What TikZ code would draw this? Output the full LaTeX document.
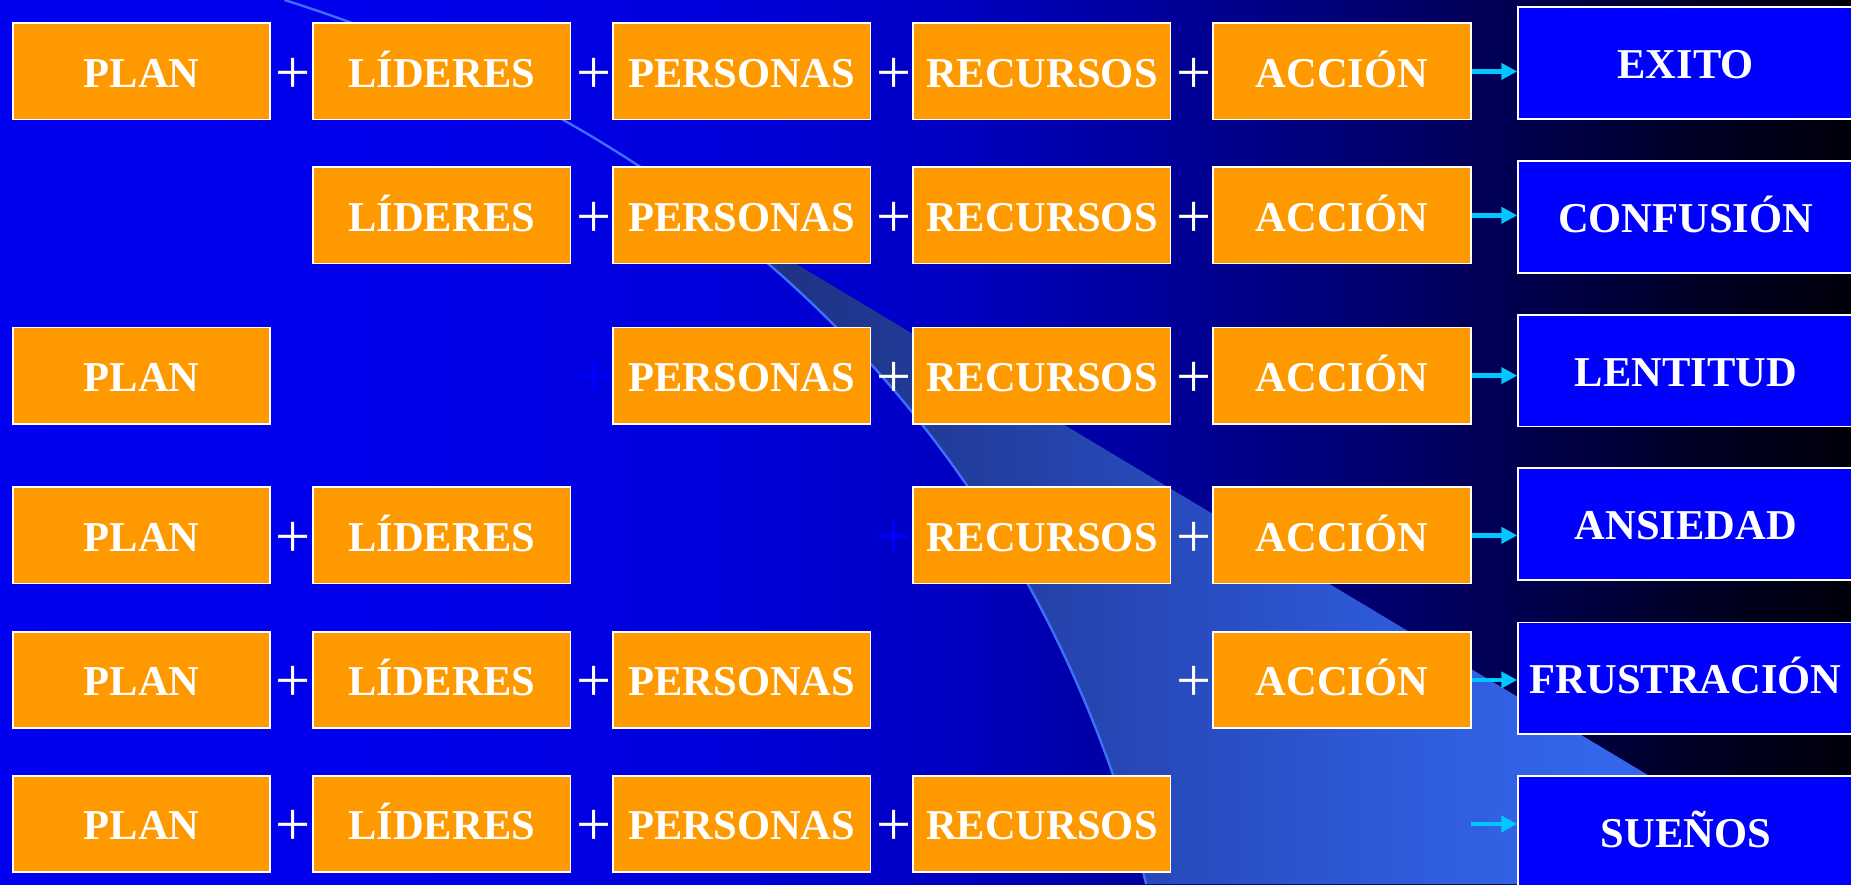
\documentclass[tikz,border=0pt]{standalone}
\usepackage{fontspec}
\setmainfont{Liberation Serif}
\usetikzlibrary{arrows.meta}
\definecolor{obox}{HTML}{FF9900}
\definecolor{rbox}{HTML}{0000FF}
\definecolor{arrcyan}{HTML}{00C8FF}
\definecolor{swline}{HTML}{3F6FFF}
\definecolor{faint}{HTML}{0000FF}
\definecolor{bg0}{RGB}{0,0,240}
\definecolor{bg1}{RGB}{0,0,236}
\definecolor{bg2}{RGB}{0,0,220}
\definecolor{bg3}{RGB}{0,0,195}
\definecolor{bg4}{RGB}{0,0,150}
\definecolor{bg5}{RGB}{0,0,115}
\definecolor{bg6}{RGB}{0,0,75}
\definecolor{bg7}{RGB}{0,0,35}
\definecolor{bg8}{RGB}{0,0,10}
\definecolor{sw0}{RGB}{30,50,130}
\definecolor{sw1}{RGB}{33,60,155}
\definecolor{sw2}{RGB}{40,75,190}
\definecolor{sw3}{RGB}{47,92,220}
\definecolor{sw4}{RGB}{51,102,235}
\pgfdeclarehorizontalshading{bgshade}{100bp}{color(0bp)=(bg0); color(25bp)=(bg0); color(34.6bp)=(bg1); color(44.1bp)=(bg2); color(50.5bp)=(bg3); color(56.9bp)=(bg4); color(61.7bp)=(bg5); color(66.5bp)=(bg6); color(71.2bp)=(bg7); color(75bp)=(bg8); color(100bp)=(bg8)}
\pgfdeclarehorizontalshading{swshade}{100bp}{color(0bp)=(sw0); color(28.7bp)=(sw0); color(36bp)=(sw1); color(45.7bp)=(sw2); color(55.5bp)=(sw3); color(62.8bp)=(sw4); color(100bp)=(sw4)}

\begin{document}
\begin{tikzpicture}[x=0.02cm,y=-0.02cm,
  box/.style={draw=white,line width=0.03cm,fill=obox,minimum width=4.36cm,minimum height=1.63cm,
    inner sep=0pt,text=white,font=\fontsize{20.5}{24}\selectfont\bfseries,text height=15.2pt,text depth=0pt},
  res/.style={box,fill=rbox,minimum width=5.68cm,minimum height=1.89cm},
  pls/.style={text=white,inner sep=0pt,yshift=-0.07cm,font=\fontsize{30}{30}\selectfont},
  arr/.style={draw=arrcyan,line width=0.08cm,-{Triangle[length=0.27cm,width=0.27cm]}}]
  \useasboundingbox (0,0) rectangle (1568,749);
  \clip (0,0) rectangle (1568,749);
  \shade[shading=bgshade] (0,0) rectangle (1568,749);
  \shade[shading=swshade] (575.1,164) -- (1600,779) -- (1600,749) -- (971,749)
    .. controls (907.35,503.1) and (771.75,304.6) .. (575.1,164) -- cycle;
  \draw[swline,line width=0.04cm] (241,0) .. controls (621,120) and (876,382) .. (971,749);
  \foreach \r/\y/\m in {1/60.5/0,2/182.4/1,3/318.2/2,4/453.5/3,5/576/4,6/698/5}{
    \coordinate (row\r) at (0,\y);
    \foreach \c/\t in {1/PLAN,2/LÍDERES,3/PERSONAS,4/RECURSOS,5/ACCIÓN}
      {\ifnum\c=\m\else\node[box] (b\r-\c) at ({120+254.2*(\c-1)},\y) {\t};\fi}}
  \foreach \r/\c in {1/1,1/2,1/3,1/4,2/2,2/3,2/4,3/3,3/4,4/1,4/4,5/1,5/2,5/4,6/1,6/2,6/3}
    {\path (row\r) ++ ({248.6+254.2*(\c-1)},0) node[pls] (p\r-\c) {+};}
  \path (row3) ++ (502.8,0) node[pls,text=faint] (p3-2) {+};
  \path (row4) ++ (757,0) node[pls,text=faint] (p4-3) {+};
  \foreach \r/\y/\t in {1/53.5/EXITO,2/183.7/CONFUSIÓN,3/314/LENTITUD,4/444/ANSIEDAD,
    5/574.5/FRUSTRACIÓN,6/704.7/SUEÑOS}
    {\node[res] (r\r) at (1428,\y) {\t};}
  \foreach \r in {1,...,5}
    {\draw[arr] (b\r-5.east) -- (r\r.west |- b\r-5.east);}
  \coordinate (t6) at (1245.8,698);
  \draw[arr] (t6) -- (r6.west |- t6);
\end{tikzpicture}
\end{document}
